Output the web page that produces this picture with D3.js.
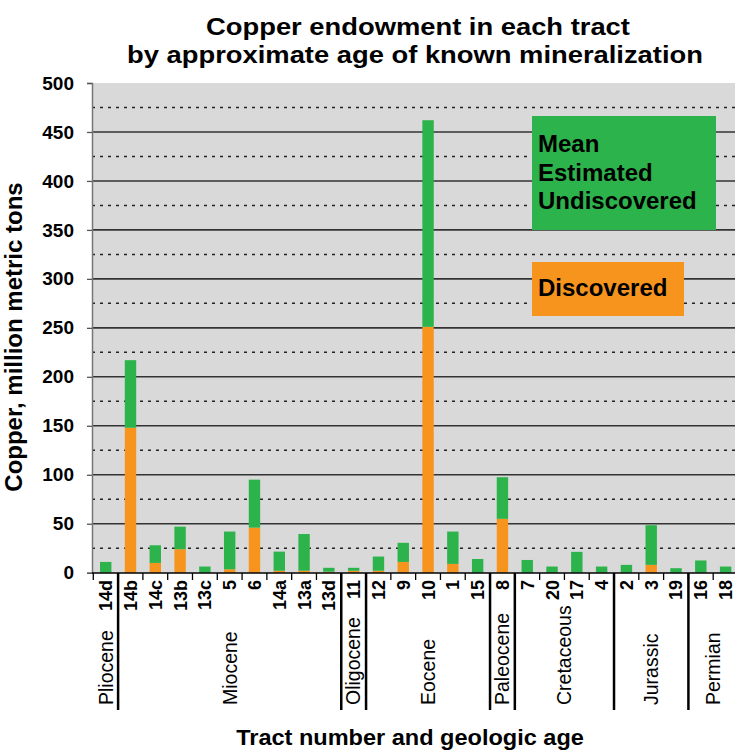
<!DOCTYPE html>
<html>
<head>
<meta charset="utf-8">
<title>Copper endowment</title>
<script src="https://cdn.jsdelivr.net/npm/d3@7"></script>
<style>
body { margin: 0; background: #fff; }
text { font-family: "Liberation Sans", Arial, sans-serif; }
</style>
</head>
<body>
<svg id="chart" width="735" height="751"></svg>
<script>
// tract numbers, left to right
var tracts = ["14d", "14b", "14c", "13b", "13c", "5", "6", "14a", "13a", "13d", "11",
              "12", "9", "10", "1", "15", "8", "7", "20", "17", "4", "2", "3", "19", "16", "18"];
// million metric tons
var discovered = [0, 148, 10, 24, 0, 3.5, 46, 2, 2, 1, 2,
                  2, 11, 251, 9, 0, 55, 0, 0, 0, 0, 0, 8, 0, 0, 0];
var undiscovered = [11, 69, 18, 23, 6.3, 38.5, 49, 19.5, 37.5, 4, 3,
                    14.5, 19.5, 211, 33, 14, 42.5, 13, 6.3, 21.3, 6.3, 8, 40.5, 4.6, 12.5, 6.3];
// geologic age groups and how many tracts each one spans
var ages = ["Pliocene", "Miocene", "Oligocene", "Eocene", "Paleocene", "Cretaceous", "Jurassic", "Permian"];
var ageCounts = [1, 9, 1, 5, 1, 4, 3, 2];
var yTicks = [0, 50, 100, 150, 200, 250, 300, 350, 400, 450, 500];
var yMinor = [25, 75, 125, 175, 225, 275, 325, 375, 425, 475];
var legendUndisc = ["Mean", "Estimated", "Undiscovered"];
var legendDisc = ["Discovered"];

var green = "#2db34b";
var orange = "#f7941e";

window.onload = function() {
    var svg = d3.select("#chart");

    var left = 92, top = 83, bottom = 573;
    var x0 = 93.3, x1 = 738;

    var xScale = d3.scaleBand()
        .domain(tracts)
        .range([x0, x1])
        .paddingInner(0.54)
        .paddingOuter(0.27);
    var step = xScale.step();

    var yScale = d3.scaleLinear()
        .domain([0, 500])
        .range([572.7, 83]);

    // plot background
    svg.append("rect")
        .attr("x", left).attr("y", top)
        .attr("width", 735 - left).attr("height", bottom - top)
        .attr("fill", "#d9d9d9");

    // grid lines
    svg.selectAll(".minor")
        .data(yMinor)
        .enter().append("line")
        .attr("x1", left).attr("x2", 735)
        .attr("y1", function(d) { return yScale(d); })
        .attr("y2", function(d) { return yScale(d); })
        .attr("stroke", "#222")
        .attr("stroke-width", 1.5)
        .attr("stroke-dasharray", "3,5");

    svg.selectAll(".major")
        .data(yTicks.filter(function(d) { return d > 0 && d < 500; }))
        .enter().append("line")
        .attr("x1", left).attr("x2", 735)
        .attr("y1", function(d) { return yScale(d); })
        .attr("y2", function(d) { return yScale(d); })
        .attr("stroke", "#333")
        .attr("stroke-width", 1.6);

    // stacked bars
    var rows = tracts.map(function(t, i) {
        return { tract: t, discovered: discovered[i], undiscovered: undiscovered[i] };
    });
    var stack = d3.stack().keys(["discovered", "undiscovered"]);
    var layers = stack(rows);
    var colors = { discovered: orange, undiscovered: green };

    svg.selectAll(".layer")
        .data(layers)
        .enter().append("g")
        .attr("fill", function(d) { return colors[d.key]; })
        .selectAll("rect")
        .data(function(d) { return d; })
        .enter().append("rect")
        .attr("x", function(d) { return xScale(d.data.tract); })
        .attr("width", xScale.bandwidth())
        .attr("y", function(d) { return yScale(d[1]); })
        .attr("height", function(d) { return yScale(d[0]) - yScale(d[1]); });

    // y axis
    var yAxis = d3.axisLeft(yScale)
        .tickValues(yTicks)
        .tickSize(5)
        .tickPadding(13);
    var gy = svg.append("g")
        .attr("transform", "translate(" + left + ",0)")
        .call(yAxis);
    gy.select(".domain").attr("stroke", "#777").attr("stroke-width", 1.5);
    gy.selectAll(".tick line").attr("stroke", "#555").attr("stroke-width", 1.3);
    gy.selectAll("text")
        .attr("font-family", "Liberation Sans, Arial, sans-serif")
        .attr("font-size", 19)
        .attr("font-weight", "bold")
        .attr("fill", "#000");

    // x axis
    svg.append("line")
        .attr("x1", left).attr("x2", 735)
        .attr("y1", bottom).attr("y2", bottom)
        .attr("stroke", "#000").attr("stroke-width", 1.5);

    svg.selectAll(".xtick")
        .data(d3.range(tracts.length + 1))
        .enter().append("line")
        .attr("x1", function(i) { return x0 + i * step; })
        .attr("x2", function(i) { return x0 + i * step; })
        .attr("y1", bottom).attr("y2", bottom + 7)
        .attr("stroke", "#000").attr("stroke-width", 1.3);

    svg.selectAll(".xlabel")
        .data(tracts)
        .enter().append("text")
        .attr("transform", function(d) {
            return "translate(" + (xScale(d) + xScale.bandwidth() / 2) + "," + (bottom + 7) + ") rotate(-90)";
        })
        .attr("dy", "0.36em")
        .attr("text-anchor", "end")
        .attr("font-size", 18)
        .attr("font-weight", "bold")
        .text(function(d) { return d; });

    // age groups
    var starts = [];
    var acc = 0;
    ageCounts.forEach(function(c) { starts.push(acc); acc += c; });

    svg.selectAll(".sep")
        .data(starts.slice(1))
        .enter().append("line")
        .attr("x1", function(s) { return x0 + s * step; })
        .attr("x2", function(s) { return x0 + s * step; })
        .attr("y1", bottom).attr("y2", 710)
        .attr("stroke", "#000").attr("stroke-width", 2.5);

    svg.selectAll(".age")
        .data(ages)
        .enter().append("text")
        .attr("transform", function(d, i) {
            var cx = x0 + (starts[i] + ageCounts[i] / 2) * step;
            return "translate(" + cx + ",705) rotate(-90)";
        })
        .attr("dy", "0.35em")
        .attr("font-size", 19.5)
        .text(function(d) { return d; });

    // titles
    svg.append("text")
        .attr("transform", "translate(418,35) scale(1.14,1)")
        .attr("text-anchor", "middle")
        .attr("font-size", 24)
        .attr("font-weight", "bold")
        .text("Copper endowment in each tract");
    svg.append("text")
        .attr("transform", "translate(415,63) scale(1.14,1)")
        .attr("text-anchor", "middle")
        .attr("font-size", 24)
        .attr("font-weight", "bold")
        .text("by approximate age of known mineralization");

    svg.append("text")
        .attr("transform", "translate(410,745) scale(1.07,1)")
        .attr("text-anchor", "middle")
        .attr("font-size", 22)
        .attr("font-weight", "bold")
        .text("Tract number and geologic age");

    svg.append("text")
        .attr("transform", "translate(22,337) rotate(-90)")
        .attr("text-anchor", "middle")
        .attr("font-size", 24)
        .attr("font-weight", "bold")
        .text("Copper, million metric tons");

    // legend boxes
    svg.append("rect")
        .attr("x", 532).attr("y", 116)
        .attr("width", 184).attr("height", 114)
        .attr("fill", green);
    svg.selectAll(".legU")
        .data(legendUndisc)
        .enter().append("text")
        .attr("x", 538)
        .attr("y", function(d, i) { return 152 + i * 28.7; })
        .attr("font-size", 24)
        .attr("font-weight", "bold")
        .text(function(d) { return d; });

    svg.append("rect")
        .attr("x", 532).attr("y", 262)
        .attr("width", 152).attr("height", 54)
        .attr("fill", orange);
    svg.selectAll(".legD")
        .data(legendDisc)
        .enter().append("text")
        .attr("x", 538)
        .attr("y", 296)
        .attr("font-size", 24)
        .attr("font-weight", "bold")
        .text(function(d) { return d; });
};
</script>
</body>
</html>
